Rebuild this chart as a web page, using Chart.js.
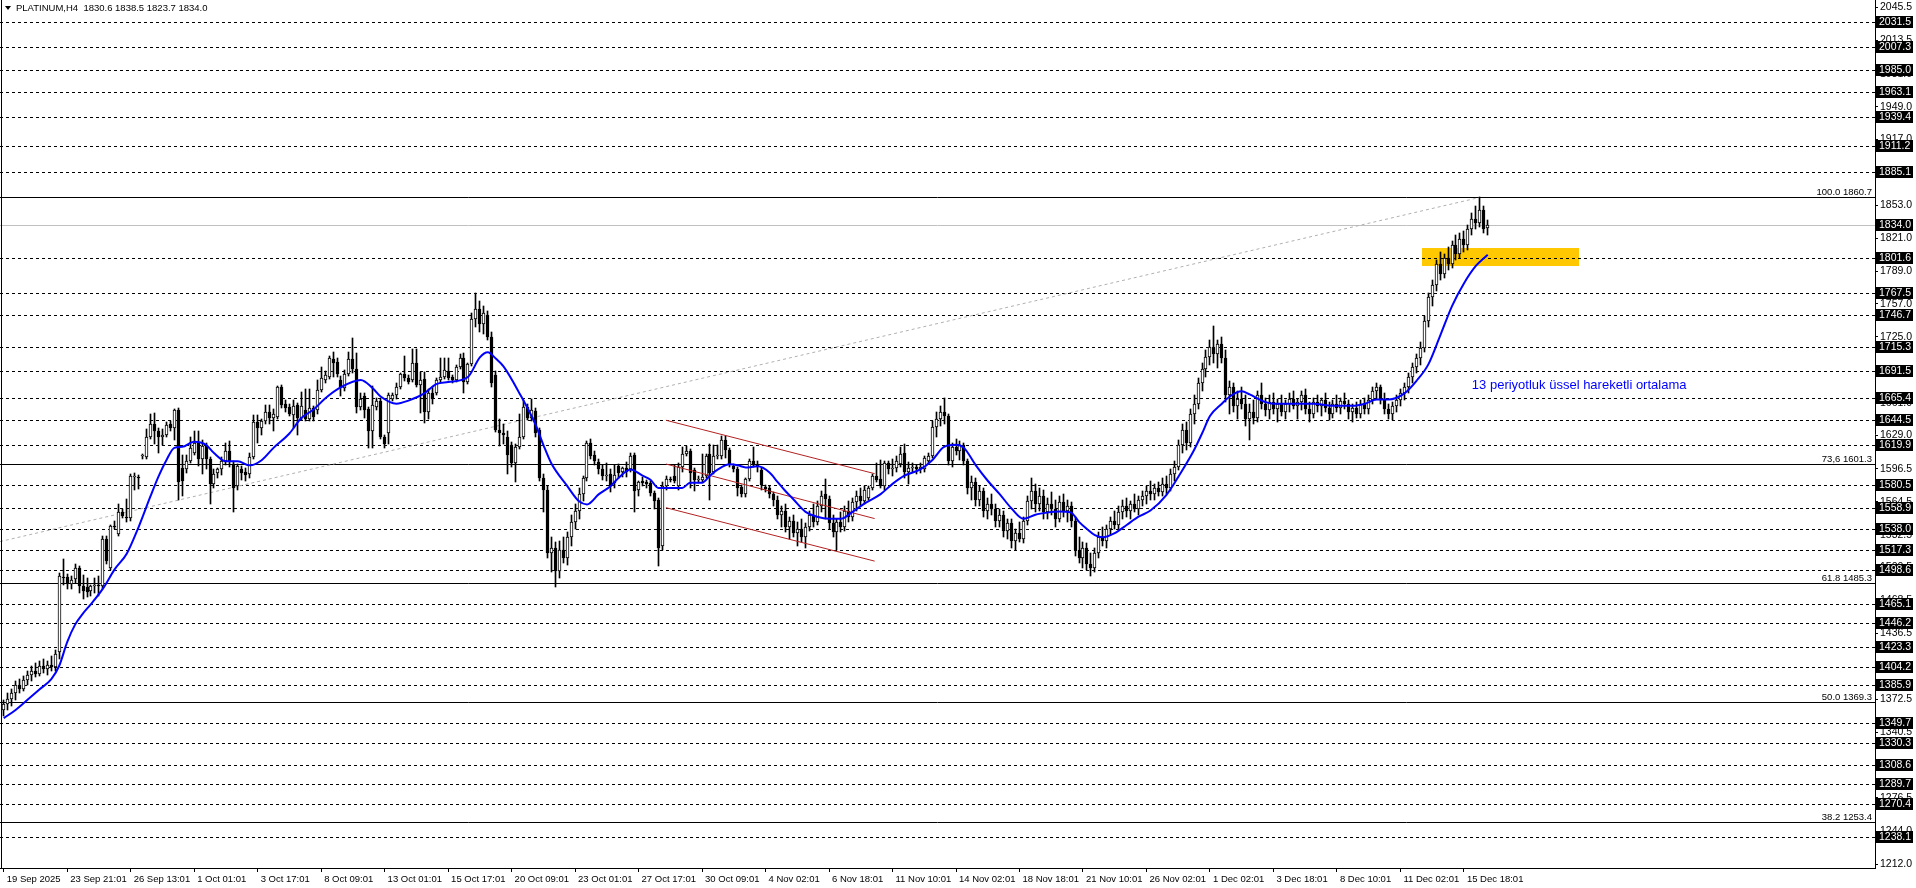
<!DOCTYPE html>
<html>
<head>
<meta charset="utf-8">
<title>PLATINUM,H4</title>
<script src="https://cdn.jsdelivr.net/npm/chart.js@4.4.1/dist/chart.umd.min.js"></script>
<style>
  html, body { margin: 0; padding: 0; background: #fff; overflow: hidden; }
  canvas { display: block; }
</style>
</head>
<body>
<canvas id="js--chart" width="1916" height="888"></canvas>
<script>
// PLATINUM H4 candles, 19 Sep - 16 Dec 2025

const titleText = "PLATINUM,H4  1830.6 1838.5 1823.7 1834.0";

const tickBars = [0, 16, 32, 48, 64, 80, 96, 112, 128, 144, 160, 176, 192, 208, 224, 240, 256, 272, 288, 304, 320, 336, 352, 368];
const tickLabels = [
    "19 Sep 2025", "23 Sep 21:01", "26 Sep 13:01", "1 Oct 01:01", "3 Oct 17:01", "8 Oct 09:01",
    "13 Oct 01:01", "15 Oct 17:01", "20 Oct 09:01", "23 Oct 01:01", "27 Oct 17:01", "30 Oct 09:01",
    "4 Nov 02:01", "6 Nov 18:01", "11 Nov 10:01", "14 Nov 02:01", "18 Nov 18:01", "21 Nov 10:01",
    "26 Nov 02:01", "1 Dec 02:01", "3 Dec 18:01", "8 Dec 10:01", "11 Dec 02:01", "15 Dec 18:01"
];

const opens = [
    1362,1368,1373,1378,1386,1382,1391,1396,1400,1397, 1405,1402,1406,1404,1418,1491,1491,1485,1489,1500,
    1483,1482,1478,1483,1484,1483,1528,1500,1541,1533, 1555,1550,1549,1590,1589,1609,1608,1628,1640,1633,
    1628,1630,1640,1636,1654,1597,1596,1604,1612,1622, 1606,1619,1606,1582,1593,1596,1604,1614,1601,1580,
    1596,1594,1592,1608,1642,1636,1643,1652,1646,1647, 1676,1660,1657,1649,1659,1646,1654,1645,1656,1654,
    1673,1683,1686,1703,1701,1683,1675,1689,1703,1694, 1657,1667,1655,1633,1657,1663,1628,1631,1665,1668,
    1676,1689,1685,1683,1700,1678,1684,1652,1670,1670, 1683,1686,1692,1686,1683,1696,1704,1681,1699,1742,
    1752,1738,1746,1725,1688,1634,1631,1628,1620,1602, 1618,1628,1657,1646,1653,1634,1588,1576,1515,1520,
    1497,1518,1510,1530,1545,1556,1572,1588,1622,1610, 1603,1596,1590,1592,1583,1599,1594,1597,1596,1610,
    1576,1585,1584,1583,1573,1566,1522,1580,1587,1590, 1580,1598,1611,1614,1595,1586,1586,1590,1611,1594,
    1609,1609,1625,1615,1599,1596,1579,1572,1587,1604, 1600,1595,1579,1578,1572,1566,1552,1556,1540,1546,
    1534,1538,1530,1540,1552,1545,1560,1572,1567,1544, 1535,1545,1540,1556,1550,1564,1570,1565,1568,1578,
    1590,1587,1580,1602,1596,1597,1601,1612,1594,1598, 1598,1596,1596,1604,1609,1637,1645,1652,1648,1604,
    1618,1614,1620,1604,1578,1584,1566,1575,1556,1562, 1558,1546,1552,1536,1544,1526,1534,1528,1546,1565,
    1575,1562,1570,1555,1562,1558,1548,1564,1556,1560, 1546,1518,1510,1520,1504,1500,1515,1530,1526,1538,
    1546,1542,1555,1560,1556,1562,1558,1566,1570,1575, 1572,1578,1574,1582,1578,1592,1598,1620,1634,1622,
    1650,1660,1680,1694,1705,1715,1708,1718,1704,1668, 1676,1658,1665,1660,1645,1652,1646,1668,1660,1654,
    1662,1655,1660,1652,1660,1665,1658,1662,1668,1655, 1650,1662,1658,1664,1656,1650,1660,1656,1663,1660,
    1652,1656,1650,1660,1655,1664,1672,1676,1664,1655, 1650,1658,1664,1670,1676,1686,1696,1704,1714,1740,
    1764,1775,1796,1786,1802,1796,1814,1806,1820,1814, 1830,1840,1836,1848,1830.6
];
const highs = [
    1372,1378,1382,1390,1392,1395,1400,1405,1408,1410, 1412,1410,1414,1420,1495,1509,1494,1492,1504,1502,
    1493,1490,1484,1490,1492,1531,1531,1542,1546,1562, 1558,1567,1592,1593,1591,1611,1635,1650,1651,1636,
    1635,1642,1643,1655,1656,1610,1610,1628,1633,1633, 1625,1622,1608,1596,1597,1608,1622,1624,1604,1601,
    1599,1597,1612,1649,1649,1645,1659,1659,1655,1677, 1678,1664,1660,1664,1661,1671,1674,1674,1658,1683,
    1696,1692,1706,1710,1704,1687,1693,1710,1724,1709, 1670,1670,1657,1677,1666,1666,1630,1670,1670,1680,
    1690,1706,1688,1713,1713,1691,1691,1674,1676,1685, 1704,1704,1704,1688,1698,1708,1709,1700,1748,1768,
    1760,1755,1750,1730,1692,1645,1640,1633,1623,1621, 1650,1664,1660,1665,1656,1636,1592,1580,1530,1525,
    1526,1530,1535,1552,1562,1578,1590,1624,1626,1614, 1606,1600,1602,1596,1600,1601,1598,1603,1612,1612,
    1585,1589,1586,1585,1575,1568,1584,1590,1589,1600, 1602,1618,1619,1616,1597,1590,1611,1611,1621,1620,
    1620,1629,1629,1617,1601,1598,1581,1588,1606,1618, 1604,1597,1581,1580,1574,1570,1560,1562,1550,1552,
    1545,1548,1544,1556,1562,1565,1575,1587,1570,1552, 1548,1555,1560,1565,1568,1575,1578,1580,1580,1592,
    1602,1605,1604,1604,1606,1609,1618,1621,1603,1602, 1600,1602,1609,1612,1643,1652,1658,1666,1650,1622,
    1626,1624,1622,1606,1590,1588,1580,1578,1568,1572, 1562,1558,1556,1548,1548,1538,1545,1550,1570,1588,
    1582,1578,1576,1568,1574,1566,1570,1572,1566,1564, 1550,1530,1525,1524,1515,1520,1535,1540,1542,1550,
    1556,1560,1566,1568,1565,1572,1570,1575,1580,1585, 1582,1584,1588,1590,1596,1604,1625,1640,1642,1655,
    1668,1685,1700,1712,1722,1736,1722,1725,1712,1682, 1680,1672,1676,1668,1660,1664,1672,1680,1666,1668,
    1670,1665,1668,1664,1670,1672,1665,1672,1674,1662, 1666,1668,1666,1670,1662,1664,1668,1666,1670,1664,
    1660,1662,1664,1666,1668,1676,1680,1678,1670,1660, 1662,1668,1674,1680,1690,1700,1708,1720,1745,1768,
    1780,1800,1808,1806,1812,1818,1824,1826,1828,1834, 1846,1852,1861,1852,1838.5
];
const lows = [
    1356,1362,1366,1372,1378,1380,1386,1390,1394,1395, 1398,1396,1400,1400,1412,1484,1480,1480,1486,1476,
    1470,1472,1473,1476,1473,1480,1504,1498,1538,1531, 1549,1545,1546,1576,1577,1606,1606,1626,1621,1612,
    1620,1628,1633,1625,1566,1570,1593,1602,1610,1599, 1592,1596,1562,1578,1588,1591,1600,1598,1555,1576,
    1586,1585,1588,1606,1622,1630,1640,1640,1633,1645, 1656,1652,1648,1636,1630,1644,1643,1643,1643,1650,
    1671,1680,1684,1686,1686,1667,1672,1687,1690,1651, 1654,1646,1617,1617,1654,1626,1617,1621,1663,1665,
    1674,1682,1679,1681,1676,1651,1641,1645,1660,1668, 1680,1684,1683,1680,1681,1694,1670,1679,1697,1735,
    1730,1728,1722,1676,1632,1619,1621,1592,1598,1584, 1616,1626,1644,1643,1628,1585,1555,1510,1496,1482,
    1490,1505,1503,1522,1538,1548,1565,1585,1606,1600, 1592,1586,1585,1574,1578,1588,1589,1589,1594,1555,
    1570,1580,1578,1570,1558,1502,1518,1576,1584,1583, 1576,1594,1609,1578,1575,1583,1584,1588,1566,1592,
    1606,1606,1607,1598,1594,1570,1569,1569,1585,1598, 1594,1576,1574,1568,1560,1548,1540,1535,1528,1530,
    1522,1525,1520,1536,1540,1542,1555,1548,1538,1530, 1518,1535,1536,1545,1546,1556,1560,1562,1566,1576,
    1584,1578,1576,1592,1590,1594,1598,1588,1582,1594, 1592,1593,1594,1602,1607,1628,1638,1640,1600,1598,
    1610,1605,1600,1572,1566,1560,1560,1550,1548,1552, 1540,1540,1530,1528,1520,1518,1525,1524,1542,1558,
    1555,1556,1548,1548,1552,1540,1545,1550,1545,1540, 1512,1505,1500,1498,1492,1496,1510,1522,1520,1532,
    1538,1538,1548,1550,1548,1555,1552,1560,1562,1566, 1566,1570,1570,1572,1575,1585,1595,1612,1615,1618,
    1640,1655,1672,1686,1698,1700,1695,1700,1662,1650, 1652,1645,1655,1638,1625,1640,1642,1655,1648,1645,
    1650,1642,1648,1645,1652,1655,1645,1654,1650,1642, 1646,1652,1648,1652,1644,1646,1652,1650,1655,1645,
    1642,1646,1646,1650,1650,1660,1665,1660,1650,1645, 1644,1652,1658,1664,1670,1680,1690,1698,1710,1735,
    1755,1770,1780,1782,1790,1792,1800,1802,1808,1810, 1824,1830,1832,1826,1823.7
];
const closes = [
    1368,1373,1378,1386,1382,1391,1396,1400,1397,1405, 1402,1406,1404,1416,1492,1490,1485,1488,1500,1483,
    1478,1477,1483,1484,1483,1528,1507,1541,1540,1555, 1551,1549,1590,1590,1588,1610,1628,1640,1633,1628,
    1630,1639,1636,1654,1584,1585,1604,1617,1622,1606, 1619,1606,1582,1592,1596,1604,1614,1604,1578,1599,
    1593,1591,1608,1642,1636,1643,1652,1646,1650,1676, 1659,1656,1650,1658,1646,1658,1645,1656,1647,1673,
    1685,1688,1704,1700,1689,1675,1689,1703,1694,1657, 1665,1654,1633,1659,1663,1628,1621,1668,1668,1676,
    1689,1685,1681,1700,1678,1683,1652,1670,1665,1683, 1686,1693,1685,1683,1696,1704,1681,1699,1742,1752,
    1738,1748,1725,1680,1634,1631,1630,1610,1602,1618, 1628,1657,1646,1654,1631,1588,1576,1515,1520,1497,
    1518,1510,1530,1545,1556,1572,1588,1622,1609,1604, 1596,1590,1591,1580,1591,1593,1597,1594,1609,1575,
    1584,1583,1582,1573,1565,1520,1580,1587,1586,1585, 1598,1611,1614,1593,1586,1587,1589,1609,1593,1609,
    1610,1625,1615,1601,1596,1578,1572,1587,1604,1600, 1598,1581,1577,1572,1566,1552,1556,1540,1546,1534,
    1538,1530,1540,1552,1545,1560,1570,1567,1544,1535, 1545,1540,1556,1550,1564,1570,1565,1576,1578,1590,
    1586,1580,1602,1596,1597,1604,1611,1594,1597,1598, 1596,1598,1607,1609,1637,1645,1652,1648,1604,1618,
    1614,1620,1604,1578,1584,1566,1575,1556,1562,1558, 1546,1552,1536,1544,1526,1534,1528,1546,1565,1575,
    1562,1570,1555,1562,1558,1548,1564,1556,1560,1546, 1518,1510,1520,1504,1500,1515,1530,1526,1538,1546,
    1542,1555,1560,1556,1562,1558,1566,1570,1575,1572, 1578,1574,1582,1578,1592,1598,1620,1634,1622,1650,
    1660,1680,1694,1705,1715,1708,1718,1704,1668,1676, 1658,1665,1660,1645,1652,1646,1668,1660,1654,1662,
    1655,1660,1652,1660,1665,1658,1662,1668,1655,1650, 1662,1658,1664,1656,1650,1660,1656,1663,1660,1652,
    1656,1650,1660,1655,1664,1672,1676,1664,1655,1650, 1658,1664,1670,1676,1686,1696,1704,1714,1740,1764,
    1775,1796,1786,1802,1796,1814,1806,1820,1814,1830, 1840,1836,1848,1830,1834.0
];

// 13 period EMA
const emaBars = [
    0,3,6,9,12,14,16,18,20,22,25,28,31,34,37,39,41,43,45,48,51,53,56,59,62,65,68,72,75,78,81,85,90,93,95,99,
    102,106,109,112,117,120,122,124,126,130,134,136,138,142,145,147,150,153,155,158,161,163,165,168,171,173,
    176,178,180,183,185,187,190,193,195,197,199,202,205,208,211,214,217,221,224,227,231,234,237,240,242,245,
    248,251,254,257,260,263,266,269,271,273,275,277,280,283,286,289,293,297,300,302,304,307,309,312,314,317,
    320,325,330,335,340,343,346,349,353,356,359,362,365,368,371,374
];
const emaValues = [
    1354,1362,1372,1382,1392,1405,1428,1445,1456,1465,1480,1499,1514,1540,1570,1589,1605,1617,1618,1623,1620,1612,1604,1604,1600,1605,1617,1631,1646,1654,1665,1676,1683,1675,1667,1660,
    1663,1670,1679,1681,1686,1705,1710,1704,1696,1670,1640,1620,1602,1580,1565,1562,1572,1580,1588,1596,1590,1586,1578,1578,1578,1583,
    1583,1590,1596,1601,1600,1598,1599,1593,1584,1575,1567,1555,1550,1548,1548,1555,1563,1572,1582,1590,1596,1605,1618,1620,1617,1600,
    1585,1572,1558,1548,1552,1554,1555,1554,1545,1538,1532,1530,1534,1542,1550,1556,1571,1595,1615,1631,1648,1660,1667,1672,1669,1663,
    1660,1660,1660,1658,1658,1660,1664,1664,1670,1682,1698,1726,1755,1777,1794,1805
];

// horizontal levels with black price tags
const levels = [2031.5, 2007.3, 1985.0, 1963.1, 1939.4, 1911.2, 1885.1, 1801.6, 1767.5, 1746.7, 1715.3, 1691.5,
    1665.4, 1644.5, 1619.9, 1580.5, 1558.9, 1538.0, 1517.3, 1498.6, 1465.1, 1446.2, 1423.3, 1404.2, 1385.9,
    1349.7, 1330.3, 1308.6, 1289.7, 1270.4, 1238.1];
const lastPrice = 1834.0;
const fibLevels = [1860.7, 1601.3, 1485.3, 1369.3, 1253.4];
const fibNames = ["100.0", "73,6", "61.8", "50.0", "38.2"];
const yTicks = [2045.5, 2013.5, 1981.0, 1949.0, 1917.0, 1885.0, 1853.0, 1821.0, 1789.0, 1757.0, 1725.0, 1693.0,
    1661.0, 1629.0, 1596.5, 1564.5, 1532.5, 1500.5, 1468.5, 1436.5, 1404.5, 1372.5, 1340.5, 1308.5, 1276.5, 1244.0, 1212.0];

// drawn objects: [bar, price] end points
const fibTrend = [[-0.93, 1525.8], [372, 1860.7]];
const channelTop = [[166.9, 1643.9], [219.5, 1591.9]];
const channelMid = [[166.9, 1601.3], [219.5, 1548.2]];
const channelLow = [[166.9, 1558.8], [219.5, 1506.8]];
const zoneBars = [357.4, 397];
const zonePrices = [1793.5, 1811.5];
const noteText = "13 periyotluk üssel hareketli ortalama";
const notePos = [370, 1678];

const FONT = "Liberation Sans";
Chart.defaults.font.family = FONT;
Chart.defaults.color = "#000";

function toPoints(pairs) {
    return pairs.map(p => ({x: p[0], y: p[1]}));
}

// keep the thin candles on whole pixels so they stay crisp
const snap = {
    id: "snap",
    afterDatasetsUpdate(chart) {
        [1, 2].forEach(di => {
            chart.getDatasetMeta(di).data.forEach(el => {
                el.x = Math.floor(el.x) + 0.5;
                el.y = Math.round(el.y);
                el.base = Math.round(el.base);
                if (Math.abs(el.y - el.base) < 1) el.base = el.y + 1;
            });
        });
    }
};

const overlay = {
    id: "overlay",
    beforeDatasetsDraw(chart) {
        const ctx = chart.ctx;
        const a = chart.chartArea;
        const x = chart.scales.x, y = chart.scales.y;
        ctx.save();
        // yellow zone
        const zx1 = x.getPixelForValue(zoneBars[0]), zx2 = x.getPixelForValue(zoneBars[1]);
        const zy1 = y.getPixelForValue(zonePrices[1]), zy2 = y.getPixelForValue(zonePrices[0]);
        ctx.fillStyle = "#ffc800";
        ctx.fillRect(Math.round(zx1), Math.round(zy1), Math.round(zx2 - zx1), Math.round(zy2 - zy1));

        ctx.lineWidth = 1;
        ctx.strokeStyle = "#000";
        ctx.setLineDash([3, 3]);
        levels.forEach(v => {
            const py = Math.round(y.getPixelForValue(v)) + 0.5;
            ctx.beginPath(); ctx.moveTo(a.left, py); ctx.lineTo(a.right, py); ctx.stroke();
        });
        ctx.setLineDash([]);
        fibLevels.forEach(v => {
            const py = Math.round(y.getPixelForValue(v)) + 0.5;
            ctx.beginPath(); ctx.moveTo(a.left, py); ctx.lineTo(a.right, py); ctx.stroke();
        });
        ctx.strokeStyle = "#c0c0c0";
        const lp = Math.round(y.getPixelForValue(lastPrice)) + 0.5;
        ctx.beginPath(); ctx.moveTo(a.left, lp); ctx.lineTo(a.right, lp); ctx.stroke();
        ctx.restore();
    },
    afterDraw(chart) {
        const ctx = chart.ctx;
        const a = chart.chartArea;
        const x = chart.scales.x, y = chart.scales.y;
        ctx.save();
        ctx.font = "10.5px " + FONT;
        ctx.textBaseline = "middle";
        // price tags on the axis
        levels.concat([lastPrice]).forEach(v => {
            const py = Math.round(y.getPixelForValue(v));
            ctx.fillStyle = "#000";
            ctx.fillRect(a.right + 1, py - 6, 37, 12);
            ctx.fillStyle = "#fff";
            ctx.textAlign = "left";
            ctx.fillText(v.toFixed(1), a.right + 4, py + 0.5);
        });
        // fib labels
        ctx.font = "9.5px " + FONT;
        ctx.fillStyle = "#000";
        ctx.textAlign = "right";
        ctx.textBaseline = "bottom";
        fibLevels.forEach((v, k) => {
            const py = Math.round(y.getPixelForValue(v));
            ctx.fillText(fibNames[k] + " " + v.toFixed(1), a.right - 3, py);
        });
        // title
        ctx.textAlign = "left";
        ctx.textBaseline = "middle";
        ctx.beginPath();
        ctx.moveTo(5, 6); ctx.lineTo(11, 6); ctx.lineTo(8, 10); ctx.closePath();
        ctx.fill();
        ctx.fillText(titleText, 16, 8);
        // note for the moving average
        ctx.fillStyle = "#0000ff";
        ctx.font = "13px " + FONT;
        ctx.fillText(noteText, x.getPixelForValue(notePos[0]), y.getPixelForValue(notePos[1]));
        // left frame
        ctx.strokeStyle = "#000";
        ctx.beginPath(); ctx.moveTo(1.5, 0); ctx.lineTo(1.5, a.bottom); ctx.stroke();
        ctx.restore();
    }
};

const wickData = highs.map((h, i) => ({x: i, y: [lows[i], h]}));
const bodyData = opens.map((o, i) => ({x: i, y: [o, closes[i]]}));
const bodyFill = opens.map((o, i) => closes[i] >= o ? "#ffffff" : "#000000");

const config = {
    type: "bar",
    data: {
        datasets: [
            {
                type: "line",
                data: toPoints(fibTrend),
                borderColor: "#b0b0b0",
                borderWidth: 1,
                borderDash: [3, 3],
                pointRadius: 0,
                order: 9
            },
            {
                data: wickData,
                backgroundColor: "#000",
                barThickness: 1,
                grouped: false,
                order: 6
            },
            {
                data: bodyData,
                backgroundColor: bodyFill,
                borderColor: "#000",
                borderWidth: 1,
                borderSkipped: false,
                barThickness: 3,
                grouped: false,
                order: 5
            },
            {
                type: "line",
                data: toPoints(channelTop),
                borderColor: "#b22222",
                borderWidth: 1,
                pointRadius: 0,
                order: 3
            },
            {
                type: "line",
                data: toPoints(channelMid),
                borderColor: "#b22222",
                borderWidth: 1,
                pointRadius: 0,
                order: 3
            },
            {
                type: "line",
                data: toPoints(channelLow),
                borderColor: "#b22222",
                borderWidth: 1,
                pointRadius: 0,
                order: 3
            },
            {
                type: "line",
                data: emaBars.map((b, k) => ({x: b, y: emaValues[k]})),
                borderColor: "#0000ff",
                borderWidth: 2,
                pointRadius: 0,
                cubicInterpolationMode: "monotone",
                order: 1
            }
        ]
    },
    options: {
        responsive: false,
        animation: false,
        events: [],
        layout: { padding: 0, autoPadding: false },
        plugins: { legend: { display: false }, tooltip: { enabled: false } },
        scales: {
            x: {
                type: "linear",
                position: "bottom",
                offset: false,
                min: -0.93,
                max: 471.6,
                border: { display: true, color: "#000" },
                grid: { offset: false, drawOnChartArea: false, drawTicks: true, tickLength: 4, color: "#000" },
                ticks: {
                    autoSkip: false,
                    maxRotation: 0,
                    align: "start",
                    labelOffset: 3,
                    padding: 2,
                    font: { size: 9.5 },
                    callback: (v) => {
                        const k = tickBars.indexOf(v);
                        return k >= 0 ? tickLabels[k] : "";
                    }
                },
                afterBuildTicks: (s) => { s.ticks = tickBars.map(v => ({value: v})); },
                afterFit: (s) => { s.height = 20; s.paddingLeft = 0; s.paddingRight = 0; }
            },
            y: {
                type: "linear",
                position: "right",
                min: 1208.2,
                max: 2052.8,
                border: { display: true, color: "#000" },
                grid: { drawOnChartArea: false, drawTicks: true, tickLength: 3, color: "#000" },
                ticks: {
                    autoSkip: false,
                    padding: 2,
                    font: { size: 10.5 },
                    callback: (v) => Number(v).toFixed(1)
                },
                afterBuildTicks: (s) => { s.ticks = yTicks.map(v => ({value: v})); },
                afterFit: (s) => { s.width = 41; s.paddingTop = 0; s.paddingBottom = 0; }
            }
        }
    },
    plugins: [snap, overlay]
};

new Chart(document.getElementById("js--chart"), config);
</script>
</body>
</html>
